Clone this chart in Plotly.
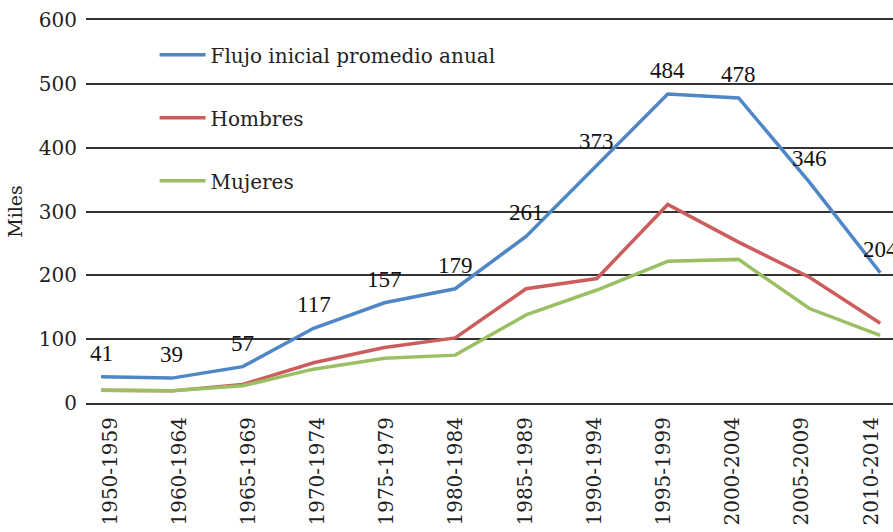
import plotly.graph_objects as go

categories = ["1950-1959", "1960-1964", "1965-1969", "1970-1974", "1975-1979", "1980-1984",
              "1985-1989", "1990-1994", "1995-1999", "2000-2004", "2005-2009", "2010-2014"]
flujo = [41, 39, 57, 117, 157, 179, 261, 373, 484, 478, 346, 204]
hombres = [20, 19, 29, 63, 87, 102, 179, 195, 311, 252, 197, 125]
mujeres = [20, 19, 27, 53, 70, 75, 138, 177, 222, 225, 148, 106]
y_ticks = [0, 100, 200, 300, 400, 500, 600]

TICK_FONT = dict(family="DejaVu Serif", size=20, color="#222222")
LBL_FONT = dict(family="Liberation Serif", size=23, color="#111111")
GRID = "#333333"

fig = go.Figure()
fig.add_trace(go.Scatter(
    x=categories, y=flujo, mode="lines", name="Flujo inicial promedio anual",
    line=dict(color="#4F86C6", width=3.5), legendgroup="a"))
fig.add_trace(go.Scatter(
    x=categories, y=hombres, mode="lines", name="Hombres",
    line=dict(color="#CD5C5C", width=3.5), legendgroup="b"))
fig.add_trace(go.Scatter(
    x=categories, y=mujeres, mode="lines", name="Mujeres",
    line=dict(color="#9BC064", width=3.5), legendgroup="c"))
# carrier trace for the category tick-label axis
fig.add_trace(go.Scatter(
    x=categories, y=[None] * len(categories), xaxis="x2", mode="lines",
    showlegend=False, hoverinfo="skip"))

for c, v in zip(categories, flujo):
    fig.add_annotation(x=c, y=v, text=str(v), showarrow=False, yanchor="bottom",
                       yshift=9, font=LBL_FONT)

fig.update_layout(
    width=893, height=532,
    margin=dict(l=86, r=0, t=20, b=129),
    paper_bgcolor="white", plot_bgcolor="white",
    showlegend=True,
    legend=dict(x=0.085, y=0.96, xanchor="left", yanchor="top",
                font=dict(family="DejaVu Serif", size=20, color="#222222"),
                bgcolor="rgba(0,0,0,0)", tracegroupgap=34, traceorder="grouped",
                itemwidth=46),
    xaxis=dict(type="category", range=[-0.212, 11.18], showgrid=False, automargin=False,
               showticklabels=False, ticks="", zeroline=False,
               showline=True, linecolor=GRID, linewidth=1.5, mirror=True),
    xaxis2=dict(type="category", overlaying="x", side="bottom", anchor="y",
                range=[-0.347, 11.318], showgrid=False, automargin=False,
                tickangle=-90, tickfont=TICK_FONT, ticks="", zeroline=False,
                showline=False, ticklabelstandoff=9),
    yaxis=dict(range=[0, 600], tickvals=y_ticks, showgrid=True, gridcolor=GRID,
               gridwidth=1.5, tickfont=TICK_FONT, ticks="", showline=False, zeroline=False,
               ticklabelstandoff=8, automargin=False,
               title=dict(text="Miles", font=dict(family="DejaVu Serif", size=19, color="#222222"),
                          standoff=11)),
)

fig.write_html("out.html", config={"displayModeBar": False},
               post_script="document.body.style.margin='0';document.body.style.overflow='hidden';")
